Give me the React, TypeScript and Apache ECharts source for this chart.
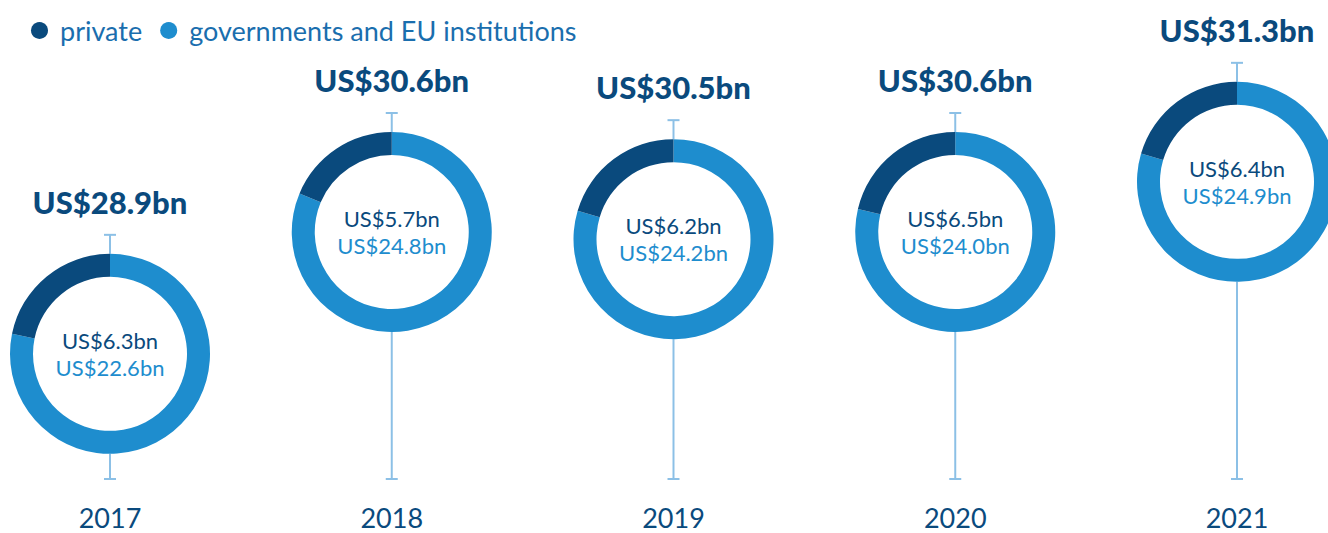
import React, { useEffect, useRef } from 'react';
import * as echarts from 'echarts';

const years = ['2017', '2018', '2019', '2020', '2021'];
const totals = [28.9, 30.6, 30.5, 30.6, 31.3];
const privateValues = [6.3, 5.7, 6.2, 6.5, 6.4];
const governmentValues = [22.6, 24.8, 24.2, 24.0, 24.9];
const seriesNames = ['private', 'governments and EU institutions'];
const yMin = 27;
const yMax = 33;

const DARK = '#0a4a7d';
const LIGHT = '#1e8dce';
const STEM = '#8cc0e6';
const LEGEND_TEXT = '#1a6eae';
const FONT = 'Lato, "Open Sans", "DejaVu Sans", sans-serif';
const R_IN = 77;
const R_OUT = 100;

export default function App() {
  const ref = useRef<HTMLDivElement>(null);

  useEffect(() => {
    if (!ref.current) return;
    const chart = echarts.init(ref.current, undefined, { renderer: 'svg' });

    const customData = years.map((_, i) => [i, totals[i], privateValues[i], governmentValues[i]]);

    const pies = years.map((_, i) => ({
      id: `pie-${i}`,
      type: 'pie',
      radius: [R_IN, R_OUT],
      center: [0, 0],
      startAngle: 90,
      clockwise: true,
      silent: true,
      z: 3,
      label: { show: false },
      labelLine: { show: false },
      emphasis: { disabled: true },
      itemStyle: { borderWidth: 0 },
      data: [
        { name: seriesNames[1], value: governmentValues[i], itemStyle: { color: LIGHT } },
        { name: seriesNames[0], value: privateValues[i], itemStyle: { color: DARK } },
      ],
    }));

    const centerText = (x: number, y: number, text: string, fill: string) => ({
      type: 'text',
      x,
      y,
      style: {
        text,
        fill,
        fontSize: 22,
        fontWeight: 400,
        fontFamily: FONT,
        align: 'center',
        verticalAlign: 'middle',
      },
    });

    chart.setOption({
      animation: false,
      legend: {
        data: seriesNames,
        left: 26,
        top: 12,
        icon: 'circle',
        itemWidth: 31,
        itemHeight: 17,
        itemGap: 18,
        selectedMode: false,
        textStyle: { color: LEGEND_TEXT, fontSize: 27, fontFamily: FONT },
      },
      grid: { left: 110, right: 91, top: 60, bottom: 43 },
      xAxis: {
        type: 'category',
        data: years,
        boundaryGap: false,
        axisLine: { show: false },
        axisTick: { show: false },
        splitLine: { show: false },
        axisLabel: { color: DARK, fontSize: 27, fontFamily: FONT, margin: 14 },
      },
      yAxis: { type: 'value', min: yMin, max: yMax, show: false },
      series: [
        {
          type: 'custom',
          silent: true,
          z: 2,
          encode: { x: 0, y: 1 },
          data: customData,
          renderItem: (params: any, api: any) => {
            const i = api.value(0);
            const total = api.value(1);
            const priv = api.value(2);
            const gov = api.value(3);
            const [x, y] = api.coord([i, total]);
            const cs = params.coordSys;
            const base = cs.y + cs.height - 11;
            const ls = { stroke: STEM, lineWidth: 2 };
            const capTop = y - R_OUT - 19;
            return {
              type: 'group',
              children: [
                { type: 'line', shape: { x1: x, y1: capTop, x2: x, y2: y - R_OUT }, style: ls },
                { type: 'line', shape: { x1: x - 6, y1: capTop, x2: x + 6, y2: capTop }, style: ls },
                { type: 'line', shape: { x1: x, y1: y + R_OUT, x2: x, y2: base }, style: ls },
                { type: 'line', shape: { x1: x - 6, y1: base, x2: x + 6, y2: base }, style: ls },
                {
                  type: 'text',
                  x,
                  y: y - 152,
                  style: {
                    text: `US$${Number(total).toFixed(1)}bn`,
                    fill: DARK,
                    fontSize: 31,
                    fontWeight: 900,
                    fontFamily: FONT,
                    align: 'center',
                    verticalAlign: 'middle',
                  },
                },
                centerText(x, y - 13.5, `US$${Number(priv).toFixed(1)}bn`, DARK),
                centerText(x, y + 13.5, `US$${Number(gov).toFixed(1)}bn`, LIGHT),
              ],
            };
          },
        },
        ...pies,
      ],
    });

    const centers = years.map((_, i) => chart.convertToPixel({ gridIndex: 0 }, [i, totals[i]]));
    chart.setOption({
      series: centers.map((c, i) => ({ id: `pie-${i}`, center: c })),
    });

    return () => chart.dispose();
  }, []);

  return (
    <div
      ref={ref}
      style={{ position: 'absolute', left: 0, top: 0, width: 1328, height: 533, background: '#fff' }}
    />
  );
}
